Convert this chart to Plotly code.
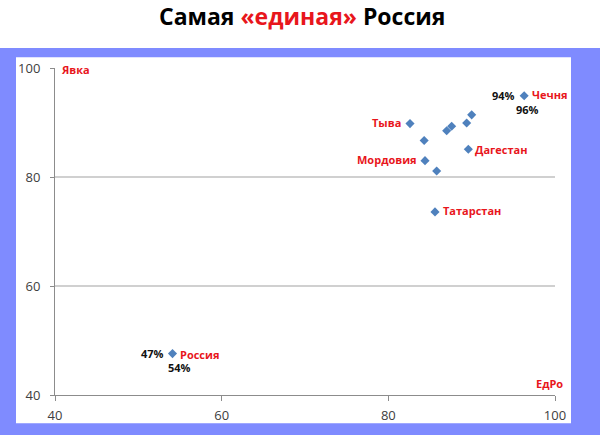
import plotly.graph_objects as go

# Data: ЕдРо result (%) vs turnout "Явка" (%)
edro = [96.3, 54.1, 82.6, 84.3, 87.0, 87.6, 89.4, 90.0, 89.6, 84.4, 85.8, 85.6]
yavka = [94.9, 47.6, 89.8, 86.7, 88.5, 89.3, 89.9, 91.4, 85.1, 83.0, 81.1, 73.6]
names = ["Чечня", "Россия", "Тыва", "", "", "", "", "", "Дагестан", "Мордовия", "", "Татарстан"]

# percent captions shown next to Чечня and Россия
pct_yavka_labels = ["94%", "47%"]
pct_edro_labels = ["96%", "54%"]

x_ticks = [40, 60, 80, 100]
y_ticks = [40, 60, 80, 100]

BLUE = "#7f8bff"
RED = "#e8161c"
MARK = "#4f81bd"

fig = go.Figure()
fig.add_trace(go.Scatter(
    x=edro, y=yavka, mode="markers",
    marker=dict(symbol="diamond", size=7, color=MARK),
    hoverinfo="skip", showlegend=False,
))

# region labels: (side, xshift, yshift)
label_pos = {
    "Чечня": ("left", 6, 1),
    "Россия": ("left", 5, -1),
    "Тыва": ("right", -7, 1),
    "Дагестан": ("left", 5, 0),
    "Мордовия": ("right", -6, 1),
    "Татарстан": ("left", 6, 1),
}
annotations = []
for xv, yv, n in zip(edro, yavka, names):
    if not n:
        continue
    side, xs, ys = label_pos[n]
    annotations.append(dict(
        x=xv, y=yv, xref="x", yref="y", text="<b>%s</b>" % n, showarrow=False,
        xanchor=side, yanchor="middle", xshift=xs, yshift=ys,
        font=dict(family="Open Sans", size=11, color=RED),
    ))

for i in range(2):
    annotations.append(dict(
        x=edro[i], y=yavka[i], xref="x", yref="y", text="<b>%s</b>" % pct_yavka_labels[i],
        showarrow=False, xanchor="right", yanchor="middle", xshift=-7, yshift=0,
        font=dict(family="Open Sans", size=11, color="#111111"),
    ))
    annotations.append(dict(
        x=edro[i], y=yavka[i], xref="x", yref="y", text="<b>%s</b>" % pct_edro_labels[i],
        showarrow=False, xanchor="center", yanchor="middle", xshift=[3, 7][i], yshift=-14,
        font=dict(family="Open Sans", size=11, color="#111111"),
    ))

# axis captions
annotations.append(dict(x=40, y=100, xref="x", yref="y", text="<b>Явка</b>", showarrow=False,
                        xanchor="left", yanchor="middle", xshift=4, yshift=-1,
                        font=dict(family="Open Sans", size=11, color=RED)))
annotations.append(dict(x=100, y=40, xref="x", yref="y", text="<b>ЕдРо</b>", showarrow=False,
                        xanchor="right", yanchor="middle", xshift=10, yshift=12,
                        font=dict(family="Open Sans", size=11, color=RED)))

# title
annotations.append(dict(x=0.494, y=1.16, xref="paper", yref="paper",
                        text="<b>Самая <span style='color:%s'>«единая»</span> Россия</b>" % RED,
                        showarrow=False, xanchor="center", yanchor="middle",
                        font=dict(family="Open Sans", size=23, color="#000000")))

shapes = [
    # white title band
    dict(type="rect", xref="paper", yref="paper", x0=-0.2, x1=1.2, y0=1.0612, y1=1.3,
         fillcolor="white", line=dict(width=0), layer="below"),
    # white chart panel
    dict(type="rect", xref="paper", yref="paper", x0=-0.078, x1=1.032, y0=-0.0865, y1=1.0327,
         fillcolor="white", line=dict(width=0), layer="below"),
]

fig.update_layout(
    width=600, height=435,
    margin=dict(l=55, r=45, t=68, b=40),
    paper_bgcolor=BLUE, plot_bgcolor="white",
    shapes=shapes, annotations=annotations,
    font=dict(family="Open Sans", size=12, color="#404040"),
)
fig.update_xaxes(range=[40, 100], tickvals=x_ticks, showgrid=False, zeroline=False,
                 showline=True, linecolor="#8c8c8c", linewidth=1,
                 ticks="outside", ticklen=5, tickcolor="#8c8c8c", ticklabelstandoff=3,
                 tickfont=dict(size=13, color="#404040"))
fig.update_yaxes(range=[40, 100], tickvals=y_ticks, showgrid=True, gridcolor="#d0d0d0", gridwidth=1.5,
                 zeroline=False, showline=True, linecolor="#8c8c8c", linewidth=1,
                 ticks="outside", ticklen=4, tickcolor="#8c8c8c", ticklabelstandoff=7,
                 tickfont=dict(size=13, color="#404040"))

fig.write_html("out.html", config={"displayModeBar": False},
               post_script="document.body.style.margin='0';document.body.style.overflow='hidden';")
